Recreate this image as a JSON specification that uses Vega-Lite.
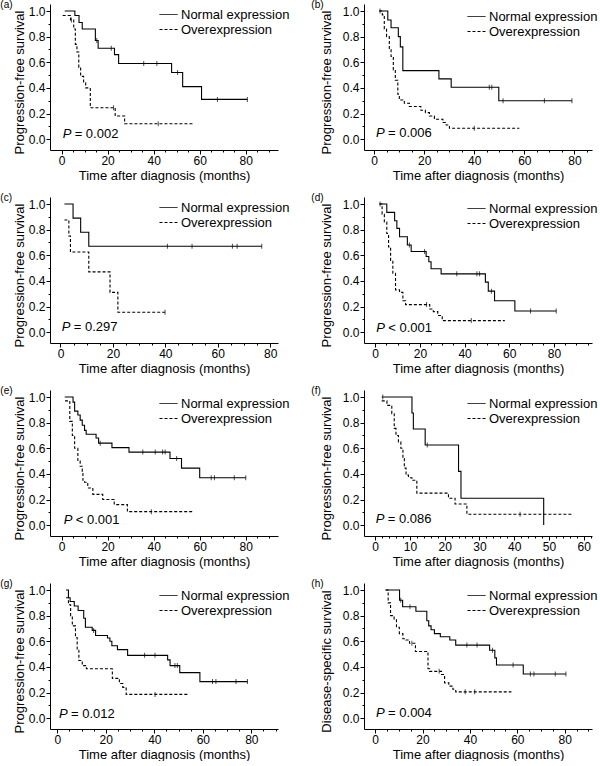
{
"$schema": "https://vega.github.io/schema/vega-lite/v6.json",
"background": "white",
"padding": {"left": 0, "top": 0, "right": 0, "bottom": 0},
"columns": 2,
"spacing": {"row": 11, "column": 21},
"resolve": {"scale": {"strokeDash": "independent"}, "legend": {"strokeDash": "independent"}},
"concat": [
{"width": 228, "height": 146, "title": {"text": "(a)", "dx": -13},
 "resolve": {"axis": {"x": "independent", "y": "independent"}},
 "data": {"values": [
  {"t":1.4,"s":1,"g":"N"},{"t":5.8,"s":0.965,"g":"N"},{"t":7.6,"s":0.91,"g":"N"},{"t":9,"s":0.86,"g":"N"},{"t":14.7,"s":0.77,"g":"N"},{"t":15.3,"s":0.77,"g":"N","c":1},{"t":15.9,"s":0.71,"g":"N"},{"t":21.6,"s":0.71,"g":"N","c":1},{"t":23,"s":0.66,"g":"N"},{"t":24.8,"s":0.59,"g":"N"},{"t":35.7,"s":0.59,"g":"N","c":1},{"t":41.4,"s":0.59,"g":"N","c":1},{"t":47.8,"s":0.52,"g":"N"},{"t":50.4,"s":0.52,"g":"N","c":1},{"t":52.6,"s":0.41,"g":"N"},{"t":60.8,"s":0.31,"g":"N"},{"t":67.7,"s":0.31,"g":"N","c":1},{"t":80.7,"s":0.31,"g":"N","c":1},
  {"t":0.5,"s":0.965,"g":"O"},{"t":3.9,"s":0.93,"g":"O"},{"t":4.3,"s":0.93,"g":"O","c":1},{"t":5.3,"s":0.86,"g":"O"},{"t":6,"s":0.74,"g":"O"},{"t":6.7,"s":0.68,"g":"O"},{"t":7.5,"s":0.56,"g":"O"},{"t":8.3,"s":0.49,"g":"O"},{"t":9.6,"s":0.44,"g":"O"},{"t":10.5,"s":0.4,"g":"O"},{"t":12.5,"s":0.245,"g":"O"},{"t":22.6,"s":0.245,"g":"O","c":1},{"t":23.3,"s":0.18,"g":"O"},{"t":27.4,"s":0.12,"g":"O"},{"t":42,"s":0.12,"g":"O","c":1},{"t":57.6,"s":0.12,"g":"O"}
 ]},
 "layer": [
  {"mark": {"type": "line", "interpolate": "step-after", "color": "#000", "strokeWidth": 1.1},
   "encoding": {
    "x": {"field": "t", "type": "quantitative", "scale": {"domain": [-5, 94], "nice": false, "zero": false},
          "axis": {"orient": "bottom", "title": "Time after diagnosis (months)", "values": [0,20,40,60,80]}},
    "y": {"field": "s", "type": "quantitative", "scale": {"domain": [-0.085, 1.055], "nice": false, "zero": false},
          "axis": {"orient": "left", "title": "Progression-free survival", "values": [0,0.2,0.4,0.6,0.8,1], "format": ".1f"}},
    "strokeDash": {"field": "g", "type": "nominal", "scale": {"domain": ["N", "O"], "range": [[1, 0], [3, 2]]},
          "legend": {"title": null, "orient": "none", "legendX": 112, "legendY": 4, "labelExpr": "datum.label == 'N' ? 'Normal expression' : 'Overexpression'"}}
   }},
  {"transform": [{"filter": "datum.c == 1"}], "mark": {"type": "tick", "orient": "vertical", "size": 5, "thickness": 1, "color": "#000"},
   "encoding": {
    "x": {"field": "t", "type": "quantitative", "axis": {"orient": "bottom", "title": null, "labels": false, "domain": false, "tickSize": 2, "values": [0,5,10,15,20,25,30,35,40,45,50,55,60,65,70,75,80,85,90]}},
    "y": {"field": "s", "type": "quantitative", "axis": {"orient": "left", "title": null, "labels": false, "domain": false, "tickSize": 2, "values": [0.1,0.3,0.5,0.7,0.9]}}}},
  {"data": {"values": [{}]}, "mark": {"type": "text", "text": "P", "fontStyle": "italic", "fontSize": 13, "align": "left", "baseline": "middle", "color": "#000"},
   "encoding": {"x": {"datum": 0.5, "type": "quantitative", "axis": null}, "y": {"datum": 0.04, "type": "quantitative", "axis": null}}},
  {"data": {"values": [{}]}, "mark": {"type": "text", "text": "= 0.002", "dx": 12, "fontSize": 13, "align": "left", "baseline": "middle", "color": "#000"},
   "encoding": {"x": {"datum": 0.5, "type": "quantitative", "axis": null}, "y": {"datum": 0.04, "type": "quantitative", "axis": null}}}
 ]},
{"width": 228, "height": 146, "title": {"text": "(b)", "dx": -9},
 "resolve": {"axis": {"x": "independent", "y": "independent"}},
 "data": {"values": [
  {"t":2.1,"s":1,"g":"N"},{"t":2.4,"s":1,"g":"N","c":1},{"t":5.5,"s":0.93,"g":"N"},{"t":6.8,"s":0.87,"g":"N"},{"t":9.7,"s":0.8,"g":"N"},{"t":10.5,"s":0.72,"g":"N"},{"t":11.5,"s":0.535,"g":"N"},{"t":25.9,"s":0.47,"g":"N"},{"t":30.8,"s":0.405,"g":"N"},{"t":46,"s":0.405,"g":"N","c":1},{"t":47,"s":0.405,"g":"N","c":1},{"t":49.8,"s":0.3,"g":"N"},{"t":51.5,"s":0.3,"g":"N","c":1},{"t":68,"s":0.3,"g":"N","c":1},{"t":79,"s":0.3,"g":"N","c":1},
  {"t":2.1,"s":1,"g":"O"},{"t":3.3,"s":0.97,"g":"O"},{"t":4.1,"s":0.86,"g":"O"},{"t":5,"s":0.8,"g":"O"},{"t":6.1,"s":0.7,"g":"O"},{"t":6.8,"s":0.645,"g":"O"},{"t":7.7,"s":0.54,"g":"O"},{"t":8.5,"s":0.46,"g":"O"},{"t":9.5,"s":0.35,"g":"O"},{"t":10.1,"s":0.305,"g":"O"},{"t":12.1,"s":0.28,"g":"O"},{"t":14.1,"s":0.255,"g":"O"},{"t":18.7,"s":0.225,"g":"O"},{"t":20.5,"s":0.207,"g":"O"},{"t":22.1,"s":0.18,"g":"O"},{"t":24.1,"s":0.155,"g":"O"},{"t":27.5,"s":0.13,"g":"O"},{"t":28.8,"s":0.11,"g":"O"},{"t":30.1,"s":0.085,"g":"O"},{"t":40,"s":0.085,"g":"O","c":1},{"t":58,"s":0.085,"g":"O"}
 ]},
 "layer": [
  {"mark": {"type": "line", "interpolate": "step-after", "color": "#000", "strokeWidth": 1.1},
   "encoding": {
    "x": {"field": "t", "type": "quantitative", "scale": {"domain": [-4, 87], "nice": false, "zero": false},
          "axis": {"orient": "bottom", "title": "Time after diagnosis (months)", "values": [0,20,40,60,80]}},
    "y": {"field": "s", "type": "quantitative", "scale": {"domain": [-0.085, 1.055], "nice": false, "zero": false},
          "axis": {"orient": "left", "title": "Progression-free survival", "titlePadding": 9, "values": [0,0.2,0.4,0.6,0.8,1], "format": ".1f"}},
    "strokeDash": {"field": "g", "type": "nominal", "scale": {"domain": ["N", "O"], "range": [[1, 0], [3, 2]]},
          "legend": {"title": null, "orient": "none", "legendX": 106, "legendY": 6, "labelExpr": "datum.label == 'N' ? 'Normal expression' : 'Overexpression'"}}
   }},
  {"transform": [{"filter": "datum.c == 1"}], "mark": {"type": "tick", "orient": "vertical", "size": 5, "thickness": 1, "color": "#000"},
   "encoding": {
    "x": {"field": "t", "type": "quantitative", "axis": {"orient": "bottom", "title": null, "labels": false, "domain": false, "tickSize": 2, "values": [0,5,10,15,20,25,30,35,40,45,50,55,60,65,70,75,80,85]}},
    "y": {"field": "s", "type": "quantitative", "axis": {"orient": "left", "title": null, "labels": false, "domain": false, "tickSize": 2, "values": [0.1,0.3,0.5,0.7,0.9]}}}},
  {"data": {"values": [{}]}, "mark": {"type": "text", "text": "P", "fontStyle": "italic", "fontSize": 13, "align": "left", "baseline": "middle", "color": "#000"},
   "encoding": {"x": {"datum": 0.8, "type": "quantitative", "axis": null}, "y": {"datum": 0.045, "type": "quantitative", "axis": null}}},
  {"data": {"values": [{}]}, "mark": {"type": "text", "text": "= 0.006", "dx": 12, "fontSize": 13, "align": "left", "baseline": "middle", "color": "#000"},
   "encoding": {"x": {"datum": 0.8, "type": "quantitative", "axis": null}, "y": {"datum": 0.045, "type": "quantitative", "axis": null}}}
 ]},
{"width": 228, "height": 146, "title": {"text": "(c)", "dx": -13},
 "resolve": {"axis": {"x": "independent", "y": "independent"}},
 "data": {"values": [
  {"t":1.5,"s":1,"g":"N"},{"t":4.8,"s":0.89,"g":"N"},{"t":7.7,"s":0.78,"g":"N"},{"t":10.8,"s":0.67,"g":"N"},{"t":40.8,"s":0.67,"g":"N","c":1},{"t":50.2,"s":0.67,"g":"N","c":1},{"t":65.6,"s":0.67,"g":"N","c":1},{"t":67.4,"s":0.67,"g":"N","c":1},{"t":76.8,"s":0.67,"g":"N","c":1},
  {"t":1.5,"s":0.875,"g":"O"},{"t":3.2,"s":0.75,"g":"O"},{"t":3.8,"s":0.625,"g":"O"},{"t":10.8,"s":0.47,"g":"O"},{"t":18.9,"s":0.31,"g":"O"},{"t":21.9,"s":0.155,"g":"O"},{"t":39.9,"s":0.155,"g":"O","c":1}
 ]},
 "layer": [
  {"mark": {"type": "line", "interpolate": "step-after", "color": "#000", "strokeWidth": 1.1},
   "encoding": {
    "x": {"field": "t", "type": "quantitative", "scale": {"domain": [-4, 83], "nice": false, "zero": false},
          "axis": {"orient": "bottom", "title": "Time after diagnosis (months)", "values": [0,20,40,60,80]}},
    "y": {"field": "s", "type": "quantitative", "scale": {"domain": [-0.085, 1.055], "nice": false, "zero": false},
          "axis": {"orient": "left", "title": "Progression-free survival", "values": [0,0.2,0.4,0.6,0.8,1], "format": ".1f"}},
    "strokeDash": {"field": "g", "type": "nominal", "scale": {"domain": ["N", "O"], "range": [[1, 0], [3, 2]]},
          "legend": {"title": null, "orient": "none", "legendX": 112, "legendY": 4, "labelExpr": "datum.label == 'N' ? 'Normal expression' : 'Overexpression'"}}
   }},
  {"transform": [{"filter": "datum.c == 1"}], "mark": {"type": "tick", "orient": "vertical", "size": 5, "thickness": 1, "color": "#000"},
   "encoding": {
    "x": {"field": "t", "type": "quantitative", "axis": {"orient": "bottom", "title": null, "labels": false, "domain": false, "tickSize": 2, "values": [0,5,10,15,20,25,30,35,40,45,50,55,60,65,70,75,80]}},
    "y": {"field": "s", "type": "quantitative", "axis": {"orient": "left", "title": null, "labels": false, "domain": false, "tickSize": 2, "values": [0.1,0.3,0.5,0.7,0.9]}}}},
  {"data": {"values": [{}]}, "mark": {"type": "text", "text": "P", "fontStyle": "italic", "fontSize": 13, "align": "left", "baseline": "middle", "color": "#000"},
   "encoding": {"x": {"datum": 0.5, "type": "quantitative", "axis": null}, "y": {"datum": 0.04, "type": "quantitative", "axis": null}}},
  {"data": {"values": [{}]}, "mark": {"type": "text", "text": "= 0.297", "dx": 12, "fontSize": 13, "align": "left", "baseline": "middle", "color": "#000"},
   "encoding": {"x": {"datum": 0.5, "type": "quantitative", "axis": null}, "y": {"datum": 0.04, "type": "quantitative", "axis": null}}}
 ]},
{"width": 228, "height": 146, "title": {"text": "(d)", "dx": -9},
 "resolve": {"axis": {"x": "independent", "y": "independent"}},
 "data": {"values": [
  {"t":1.9,"s":1,"g":"N"},{"t":2.2,"s":1,"g":"N","c":1},{"t":5.2,"s":0.935,"g":"N"},{"t":8.7,"s":0.87,"g":"N"},{"t":9.7,"s":0.81,"g":"N"},{"t":10.9,"s":0.745,"g":"N"},{"t":14.4,"s":0.68,"g":"N"},{"t":15.3,"s":0.68,"g":"N","c":1},{"t":16.1,"s":0.63,"g":"N"},{"t":22.1,"s":0.63,"g":"N","c":1},{"t":22.8,"s":0.59,"g":"N"},{"t":24,"s":0.55,"g":"N"},{"t":25,"s":0.495,"g":"N"},{"t":29.5,"s":0.455,"g":"N"},{"t":36.5,"s":0.455,"g":"N","c":1},{"t":45.5,"s":0.455,"g":"N","c":1},{"t":46.7,"s":0.455,"g":"N","c":1},{"t":49.3,"s":0.39,"g":"N"},{"t":50.6,"s":0.32,"g":"N"},{"t":52,"s":0.32,"g":"N","c":1},{"t":53.4,"s":0.245,"g":"N"},{"t":62.5,"s":0.165,"g":"N"},{"t":69.5,"s":0.165,"g":"N","c":1},{"t":81,"s":0.165,"g":"N","c":1},
  {"t":1.9,"s":1,"g":"O"},{"t":3.1,"s":0.92,"g":"O"},{"t":4.1,"s":0.86,"g":"O"},{"t":5.2,"s":0.77,"g":"O"},{"t":6,"s":0.665,"g":"O"},{"t":6.9,"s":0.56,"g":"O"},{"t":7.9,"s":0.46,"g":"O"},{"t":9.1,"s":0.33,"g":"O"},{"t":10.9,"s":0.31,"g":"O"},{"t":12.4,"s":0.245,"g":"O"},{"t":13.6,"s":0.215,"g":"O"},{"t":23,"s":0.215,"g":"O","c":1},{"t":24.4,"s":0.18,"g":"O"},{"t":26,"s":0.16,"g":"O"},{"t":28,"s":0.13,"g":"O"},{"t":30,"s":0.09,"g":"O"},{"t":43,"s":0.09,"g":"O","c":1},{"t":58,"s":0.09,"g":"O"}
 ]},
 "layer": [
  {"mark": {"type": "line", "interpolate": "step-after", "color": "#000", "strokeWidth": 1.1},
   "encoding": {
    "x": {"field": "t", "type": "quantitative", "scale": {"domain": [-5, 97], "nice": false, "zero": false},
          "axis": {"orient": "bottom", "title": "Time after diagnosis (months)", "values": [0,20,40,60,80]}},
    "y": {"field": "s", "type": "quantitative", "scale": {"domain": [-0.085, 1.055], "nice": false, "zero": false},
          "axis": {"orient": "left", "title": "Progression-free survival", "titlePadding": 9, "values": [0,0.2,0.4,0.6,0.8,1], "format": ".1f"}},
    "strokeDash": {"field": "g", "type": "nominal", "scale": {"domain": ["N", "O"], "range": [[1, 0], [3, 2]]},
          "legend": {"title": null, "orient": "none", "legendX": 106, "legendY": 5, "labelExpr": "datum.label == 'N' ? 'Normal expression' : 'Overexpression'"}}
   }},
  {"transform": [{"filter": "datum.c == 1"}], "mark": {"type": "tick", "orient": "vertical", "size": 5, "thickness": 1, "color": "#000"},
   "encoding": {
    "x": {"field": "t", "type": "quantitative", "axis": {"orient": "bottom", "title": null, "labels": false, "domain": false, "tickSize": 2, "values": [0,5,10,15,20,25,30,35,40,45,50,55,60,65,70,75,80,85,90,95]}},
    "y": {"field": "s", "type": "quantitative", "axis": {"orient": "left", "title": null, "labels": false, "domain": false, "tickSize": 2, "values": [0.1,0.3,0.5,0.7,0.9]}}}},
  {"data": {"values": [{}]}, "mark": {"type": "text", "text": "P", "fontStyle": "italic", "fontSize": 13, "align": "left", "baseline": "middle", "color": "#000"},
   "encoding": {"x": {"datum": 0.5, "type": "quantitative", "axis": null}, "y": {"datum": 0.035, "type": "quantitative", "axis": null}}},
  {"data": {"values": [{}]}, "mark": {"type": "text", "text": "< 0.001", "dx": 12, "fontSize": 13, "align": "left", "baseline": "middle", "color": "#000"},
   "encoding": {"x": {"datum": 0.5, "type": "quantitative", "axis": null}, "y": {"datum": 0.035, "type": "quantitative", "axis": null}}}
 ]},
{"width": 228, "height": 146, "title": {"text": "(e)", "dx": -13},
 "resolve": {"axis": {"x": "independent", "y": "independent"}},
 "data": {"values": [
  {"t":1.4,"s":1,"g":"N"},{"t":5,"s":0.96,"g":"N"},{"t":5.7,"s":0.89,"g":"N"},{"t":7.1,"s":0.86,"g":"N"},{"t":8.1,"s":0.82,"g":"N"},{"t":9,"s":0.78,"g":"N"},{"t":10,"s":0.74,"g":"N"},{"t":10.7,"s":0.71,"g":"N"},{"t":15,"s":0.68,"g":"N"},{"t":16.1,"s":0.64,"g":"N"},{"t":16.8,"s":0.64,"g":"N","c":1},{"t":21.9,"s":0.605,"g":"N"},{"t":29.3,"s":0.57,"g":"N"},{"t":35.3,"s":0.57,"g":"N","c":1},{"t":40.7,"s":0.57,"g":"N","c":1},{"t":43.9,"s":0.57,"g":"N","c":1},{"t":45,"s":0.57,"g":"N","c":1},{"t":47.1,"s":0.52,"g":"N"},{"t":50,"s":0.52,"g":"N","c":1},{"t":52.1,"s":0.445,"g":"N"},{"t":60,"s":0.37,"g":"N"},{"t":65,"s":0.37,"g":"N","c":1},{"t":66.4,"s":0.37,"g":"N","c":1},{"t":75,"s":0.37,"g":"N","c":1},{"t":80,"s":0.37,"g":"N","c":1},
  {"t":1.5,"s":0.97,"g":"O"},{"t":3.6,"s":0.81,"g":"O"},{"t":4.7,"s":0.7,"g":"O"},{"t":5.7,"s":0.6,"g":"O"},{"t":7.1,"s":0.5,"g":"O"},{"t":8.1,"s":0.46,"g":"O"},{"t":9,"s":0.42,"g":"O"},{"t":9.3,"s":0.35,"g":"O"},{"t":10,"s":0.335,"g":"O"},{"t":11.4,"s":0.29,"g":"O"},{"t":13.6,"s":0.24,"g":"O"},{"t":17.9,"s":0.2,"g":"O"},{"t":22.9,"s":0.16,"g":"O"},{"t":28.6,"s":0.105,"g":"O"},{"t":39,"s":0.105,"g":"O","c":1},{"t":57,"s":0.105,"g":"O"}
 ]},
 "layer": [
  {"mark": {"type": "line", "interpolate": "step-after", "color": "#000", "strokeWidth": 1.1},
   "encoding": {
    "x": {"field": "t", "type": "quantitative", "scale": {"domain": [-5, 94], "nice": false, "zero": false},
          "axis": {"orient": "bottom", "title": "Time after diagnosis (months)", "values": [0,20,40,60,80]}},
    "y": {"field": "s", "type": "quantitative", "scale": {"domain": [-0.085, 1.055], "nice": false, "zero": false},
          "axis": {"orient": "left", "title": "Progression-free survival", "values": [0,0.2,0.4,0.6,0.8,1], "format": ".1f"}},
    "strokeDash": {"field": "g", "type": "nominal", "scale": {"domain": ["N", "O"], "range": [[1, 0], [3, 2]]},
          "legend": {"title": null, "orient": "none", "legendX": 112, "legendY": 7, "labelExpr": "datum.label == 'N' ? 'Normal expression' : 'Overexpression'"}}
   }},
  {"transform": [{"filter": "datum.c == 1"}], "mark": {"type": "tick", "orient": "vertical", "size": 5, "thickness": 1, "color": "#000"},
   "encoding": {
    "x": {"field": "t", "type": "quantitative", "axis": {"orient": "bottom", "title": null, "labels": false, "domain": false, "tickSize": 2, "values": [0,5,10,15,20,25,30,35,40,45,50,55,60,65,70,75,80,85,90]}},
    "y": {"field": "s", "type": "quantitative", "axis": {"orient": "left", "title": null, "labels": false, "domain": false, "tickSize": 2, "values": [0.1,0.3,0.5,0.7,0.9]}}}},
  {"data": {"values": [{}]}, "mark": {"type": "text", "text": "P", "fontStyle": "italic", "fontSize": 13, "align": "left", "baseline": "middle", "color": "#000"},
   "encoding": {"x": {"datum": 1, "type": "quantitative", "axis": null}, "y": {"datum": 0.04, "type": "quantitative", "axis": null}}},
  {"data": {"values": [{}]}, "mark": {"type": "text", "text": "< 0.001", "dx": 12, "fontSize": 13, "align": "left", "baseline": "middle", "color": "#000"},
   "encoding": {"x": {"datum": 1, "type": "quantitative", "axis": null}, "y": {"datum": 0.04, "type": "quantitative", "axis": null}}}
 ]},
{"width": 228, "height": 146, "title": {"text": "(f)", "dx": -9},
 "resolve": {"axis": {"x": "independent", "y": "independent"}},
 "data": {"values": [
  {"t":1.9,"s":1,"g":"N"},{"t":2.2,"s":1,"g":"N","c":1},{"t":10.6,"s":0.875,"g":"N"},{"t":11,"s":0.75,"g":"N"},{"t":14.4,"s":0.625,"g":"N"},{"t":15,"s":0.625,"g":"N","c":1},{"t":24,"s":0.42,"g":"N"},{"t":24.7,"s":0.21,"g":"N"},{"t":48.5,"s":0,"g":"N"},
  {"t":1.9,"s":0.97,"g":"O"},{"t":3.4,"s":0.935,"g":"O"},{"t":4.8,"s":0.87,"g":"O"},{"t":5.5,"s":0.755,"g":"O"},{"t":6,"s":0.7,"g":"O"},{"t":6.7,"s":0.65,"g":"O"},{"t":7.4,"s":0.6,"g":"O"},{"t":8,"s":0.52,"g":"O"},{"t":8.4,"s":0.445,"g":"O"},{"t":8.9,"s":0.39,"g":"O"},{"t":9.6,"s":0.37,"g":"O"},{"t":10.6,"s":0.35,"g":"O"},{"t":12,"s":0.25,"g":"O"},{"t":21.1,"s":0.21,"g":"O"},{"t":23,"s":0.165,"g":"O"},{"t":26.4,"s":0.085,"g":"O"},{"t":41.7,"s":0.085,"g":"O","c":1},{"t":57,"s":0.085,"g":"O"}
 ]},
 "layer": [
  {"mark": {"type": "line", "interpolate": "step-after", "color": "#000", "strokeWidth": 1.1},
   "encoding": {
    "x": {"field": "t", "type": "quantitative", "scale": {"domain": [-3.2, 62.4], "nice": false, "zero": false},
          "axis": {"orient": "bottom", "title": "Time after diagnosis (months)", "values": [0,10,20,30,40,50,60]}},
    "y": {"field": "s", "type": "quantitative", "scale": {"domain": [-0.085, 1.055], "nice": false, "zero": false},
          "axis": {"orient": "left", "title": "Progression-free survival", "titlePadding": 9, "values": [0,0.2,0.4,0.6,0.8,1], "format": ".1f"}},
    "strokeDash": {"field": "g", "type": "nominal", "scale": {"domain": ["N", "O"], "range": [[1, 0], [3, 2]]},
          "legend": {"title": null, "orient": "none", "legendX": 106, "legendY": 7, "labelExpr": "datum.label == 'N' ? 'Normal expression' : 'Overexpression'"}}
   }},
  {"transform": [{"filter": "datum.c == 1"}], "mark": {"type": "tick", "orient": "vertical", "size": 5, "thickness": 1, "color": "#000"},
   "encoding": {
    "x": {"field": "t", "type": "quantitative", "axis": {"orient": "bottom", "title": null, "labels": false, "domain": false, "tickSize": 2, "values": [0,2,4,6,8,10,12,14,16,18,20,22,24,26,28,30,32,34,36,38,40,42,44,46,48,50,52,54,56,58,60,62]}},
    "y": {"field": "s", "type": "quantitative", "axis": {"orient": "left", "title": null, "labels": false, "domain": false, "tickSize": 2, "values": [0.1,0.3,0.5,0.7,0.9]}}}},
  {"data": {"values": [{}]}, "mark": {"type": "text", "text": "P", "fontStyle": "italic", "fontSize": 13, "align": "left", "baseline": "middle", "color": "#000"},
   "encoding": {"x": {"datum": 0.2, "type": "quantitative", "axis": null}, "y": {"datum": 0.045, "type": "quantitative", "axis": null}}},
  {"data": {"values": [{}]}, "mark": {"type": "text", "text": "= 0.086", "dx": 12, "fontSize": 13, "align": "left", "baseline": "middle", "color": "#000"},
   "encoding": {"x": {"datum": 0.2, "type": "quantitative", "axis": null}, "y": {"datum": 0.045, "type": "quantitative", "axis": null}}}
 ]},
{"width": 228, "height": 146, "title": {"text": "(g)", "dx": -13},
 "resolve": {"axis": {"x": "independent", "y": "independent"}},
 "data": {"values": [
  {"t":3.6,"s":1,"g":"N"},{"t":4.6,"s":0.94,"g":"N"},{"t":5.3,"s":0.91,"g":"N"},{"t":7,"s":0.875,"g":"N"},{"t":8.6,"s":0.84,"g":"N"},{"t":10.9,"s":0.78,"g":"N"},{"t":11.6,"s":0.71,"g":"N"},{"t":14.4,"s":0.685,"g":"N"},{"t":15,"s":0.685,"g":"N","c":1},{"t":15.8,"s":0.645,"g":"N"},{"t":20.7,"s":0.625,"g":"N"},{"t":21.7,"s":0.6,"g":"N"},{"t":22.5,"s":0.565,"g":"N"},{"t":24.8,"s":0.535,"g":"N"},{"t":29,"s":0.49,"g":"N"},{"t":36,"s":0.49,"g":"N","c":1},{"t":40.3,"s":0.49,"g":"N","c":1},{"t":45.5,"s":0.455,"g":"N"},{"t":46.5,"s":0.41,"g":"N"},{"t":48.5,"s":0.41,"g":"N","c":1},{"t":49.5,"s":0.41,"g":"N","c":1},{"t":50.5,"s":0.355,"g":"N"},{"t":58.8,"s":0.285,"g":"N"},{"t":64,"s":0.285,"g":"N","c":1},{"t":65.4,"s":0.285,"g":"N","c":1},{"t":73.7,"s":0.285,"g":"N","c":1},{"t":78.4,"s":0.285,"g":"N","c":1},
  {"t":3.6,"s":0.94,"g":"O"},{"t":4.6,"s":0.885,"g":"O"},{"t":5.5,"s":0.8,"g":"O"},{"t":6.2,"s":0.72,"g":"O"},{"t":7.5,"s":0.63,"g":"O"},{"t":8.2,"s":0.53,"g":"O"},{"t":8.9,"s":0.45,"g":"O"},{"t":10.3,"s":0.41,"g":"O"},{"t":12,"s":0.385,"g":"O"},{"t":22.7,"s":0.31,"g":"O"},{"t":25.6,"s":0.27,"g":"O"},{"t":27,"s":0.24,"g":"O"},{"t":28.4,"s":0.185,"g":"O"},{"t":40.3,"s":0.185,"g":"O","c":1},{"t":54,"s":0.185,"g":"O"}
 ]},
 "layer": [
  {"mark": {"type": "line", "interpolate": "step-after", "color": "#000", "strokeWidth": 1.1},
   "encoding": {
    "x": {"field": "t", "type": "quantitative", "scale": {"domain": [-3, 91], "nice": false, "zero": false},
          "axis": {"orient": "bottom", "title": "Time after diagnosis (months)", "values": [0,20,40,60,80]}},
    "y": {"field": "s", "type": "quantitative", "scale": {"domain": [-0.085, 1.055], "nice": false, "zero": false},
          "axis": {"orient": "left", "title": "Progression-free survival", "values": [0,0.2,0.4,0.6,0.8,1], "format": ".1f"}},
    "strokeDash": {"field": "g", "type": "nominal", "scale": {"domain": ["N", "O"], "range": [[1, 0], [3, 2]]},
          "legend": {"title": null, "orient": "none", "legendX": 112, "legendY": 6, "labelExpr": "datum.label == 'N' ? 'Normal expression' : 'Overexpression'"}}
   }},
  {"transform": [{"filter": "datum.c == 1"}], "mark": {"type": "tick", "orient": "vertical", "size": 5, "thickness": 1, "color": "#000"},
   "encoding": {
    "x": {"field": "t", "type": "quantitative", "axis": {"orient": "bottom", "title": null, "labels": false, "domain": false, "tickSize": 2, "values": [0,5,10,15,20,25,30,35,40,45,50,55,60,65,70,75,80,85,90]}},
    "y": {"field": "s", "type": "quantitative", "axis": {"orient": "left", "title": null, "labels": false, "domain": false, "tickSize": 2, "values": [0.1,0.3,0.5,0.7,0.9]}}}},
  {"data": {"values": [{}]}, "mark": {"type": "text", "text": "P", "fontStyle": "italic", "fontSize": 13, "align": "left", "baseline": "middle", "color": "#000"},
   "encoding": {"x": {"datum": 0.7, "type": "quantitative", "axis": null}, "y": {"datum": 0.035, "type": "quantitative", "axis": null}}},
  {"data": {"values": [{}]}, "mark": {"type": "text", "text": "= 0.012", "dx": 12, "fontSize": 13, "align": "left", "baseline": "middle", "color": "#000"},
   "encoding": {"x": {"datum": 0.7, "type": "quantitative", "axis": null}, "y": {"datum": 0.035, "type": "quantitative", "axis": null}}}
 ]},
{"width": 228, "height": 146, "title": {"text": "(h)", "dx": -9},
 "resolve": {"axis": {"x": "independent", "y": "independent"}},
 "data": {"values": [
  {"t":4.4,"s":1,"g":"N"},{"t":10.3,"s":0.92,"g":"N"},{"t":10.8,"s":0.92,"g":"N","c":1},{"t":11.6,"s":0.87,"g":"N"},{"t":14.7,"s":0.87,"g":"N","c":1},{"t":17.2,"s":0.835,"g":"N"},{"t":21.8,"s":0.76,"g":"N"},{"t":22.6,"s":0.72,"g":"N"},{"t":23.6,"s":0.69,"g":"N"},{"t":25,"s":0.66,"g":"N"},{"t":27.5,"s":0.635,"g":"N"},{"t":31.5,"s":0.61,"g":"N"},{"t":34,"s":0.57,"g":"N"},{"t":38.7,"s":0.57,"g":"N","c":1},{"t":43,"s":0.57,"g":"N","c":1},{"t":48.3,"s":0.53,"g":"N"},{"t":49.5,"s":0.53,"g":"N","c":1},{"t":50.5,"s":0.47,"g":"N"},{"t":51.2,"s":0.415,"g":"N"},{"t":58.2,"s":0.415,"g":"N","c":1},{"t":62.5,"s":0.345,"g":"N"},{"t":65.5,"s":0.345,"g":"N","c":1},{"t":67,"s":0.345,"g":"N","c":1},{"t":76,"s":0.345,"g":"N","c":1},{"t":80.5,"s":0.345,"g":"N","c":1},
  {"t":4.4,"s":1,"g":"O"},{"t":5.5,"s":0.9,"g":"O"},{"t":6.5,"s":0.8,"g":"O"},{"t":8,"s":0.775,"g":"O"},{"t":9,"s":0.71,"g":"O"},{"t":10.2,"s":0.66,"g":"O"},{"t":11.7,"s":0.62,"g":"O"},{"t":13,"s":0.61,"g":"O"},{"t":14.5,"s":0.585,"g":"O"},{"t":15.5,"s":0.585,"g":"O","c":1},{"t":17,"s":0.52,"g":"O"},{"t":22.3,"s":0.385,"g":"O"},{"t":23,"s":0.365,"g":"O"},{"t":27,"s":0.365,"g":"O","c":1},{"t":28,"s":0.34,"g":"O"},{"t":29.3,"s":0.275,"g":"O"},{"t":31.1,"s":0.25,"g":"O"},{"t":32.8,"s":0.225,"g":"O"},{"t":34,"s":0.205,"g":"O"},{"t":38,"s":0.205,"g":"O","c":1},{"t":42,"s":0.205,"g":"O","c":1},{"t":57.5,"s":0.205,"g":"O"}
 ]},
 "layer": [
  {"mark": {"type": "line", "interpolate": "step-after", "color": "#000", "strokeWidth": 1.1},
   "encoding": {
    "x": {"field": "t", "type": "quantitative", "scale": {"domain": [-4.7, 91.5], "nice": false, "zero": false},
          "axis": {"orient": "bottom", "title": "Time after diagnosis (months)", "values": [0,20,40,60,80]}},
    "y": {"field": "s", "type": "quantitative", "scale": {"domain": [-0.085, 1.055], "nice": false, "zero": false},
          "axis": {"orient": "left", "title": "Disease-specific survival", "titlePadding": 9, "values": [0,0.2,0.4,0.6,0.8,1], "format": ".1f"}},
    "strokeDash": {"field": "g", "type": "nominal", "scale": {"domain": ["N", "O"], "range": [[1, 0], [3, 2]]},
          "legend": {"title": null, "orient": "none", "legendX": 106, "legendY": 6, "labelExpr": "datum.label == 'N' ? 'Normal expression' : 'Overexpression'"}}
   }},
  {"transform": [{"filter": "datum.c == 1"}], "mark": {"type": "tick", "orient": "vertical", "size": 5, "thickness": 1, "color": "#000"},
   "encoding": {
    "x": {"field": "t", "type": "quantitative", "axis": {"orient": "bottom", "title": null, "labels": false, "domain": false, "tickSize": 2, "values": [0,5,10,15,20,25,30,35,40,45,50,55,60,65,70,75,80,85,90]}},
    "y": {"field": "s", "type": "quantitative", "axis": {"orient": "left", "title": null, "labels": false, "domain": false, "tickSize": 2, "values": [0.1,0.3,0.5,0.7,0.9]}}}},
  {"data": {"values": [{}]}, "mark": {"type": "text", "text": "P", "fontStyle": "italic", "fontSize": 13, "align": "left", "baseline": "middle", "color": "#000"},
   "encoding": {"x": {"datum": 0.4, "type": "quantitative", "axis": null}, "y": {"datum": 0.04, "type": "quantitative", "axis": null}}},
  {"data": {"values": [{}]}, "mark": {"type": "text", "text": "= 0.004", "dx": 12, "fontSize": 13, "align": "left", "baseline": "middle", "color": "#000"},
   "encoding": {"x": {"datum": 0.4, "type": "quantitative", "axis": null}, "y": {"datum": 0.04, "type": "quantitative", "axis": null}}}
 ]}
],
"config": {
 "font": "Liberation Sans",
 "view": {"stroke": null},
 "axis": {"grid": false, "domainColor": "#000", "domainWidth": 1, "tickColor": "#000", "tickWidth": 1, "tickSize": 4, "labelColor": "#000", "titleColor": "#000", "labelFontSize": 12, "titleFontSize": 13, "titleFontWeight": "normal", "labelFont": "Liberation Sans", "titleFont": "Liberation Sans", "labelOverlap": false, "labelFlush": false},
 "axisX": {"labelPadding": 1, "titlePadding": 3},
 "axisY": {"labelPadding": 1, "titlePadding": 2, "titleY": 78},
 "legend": {"labelFontSize": 13, "labelFont": "Liberation Sans", "labelColor": "#000", "symbolType": "M-1.5,0H1.5", "symbolSize": 144, "symbolStrokeWidth": 1, "symbolStrokeColor": "#000", "symbolFillColor": "transparent", "labelOffset": 6, "rowPadding": 1, "padding": 0},
 "title": {"fontSize": 10, "fontWeight": "normal", "font": "Liberation Sans", "color": "#000", "anchor": "start", "frame": "bounds", "dy": 10}
}
}
